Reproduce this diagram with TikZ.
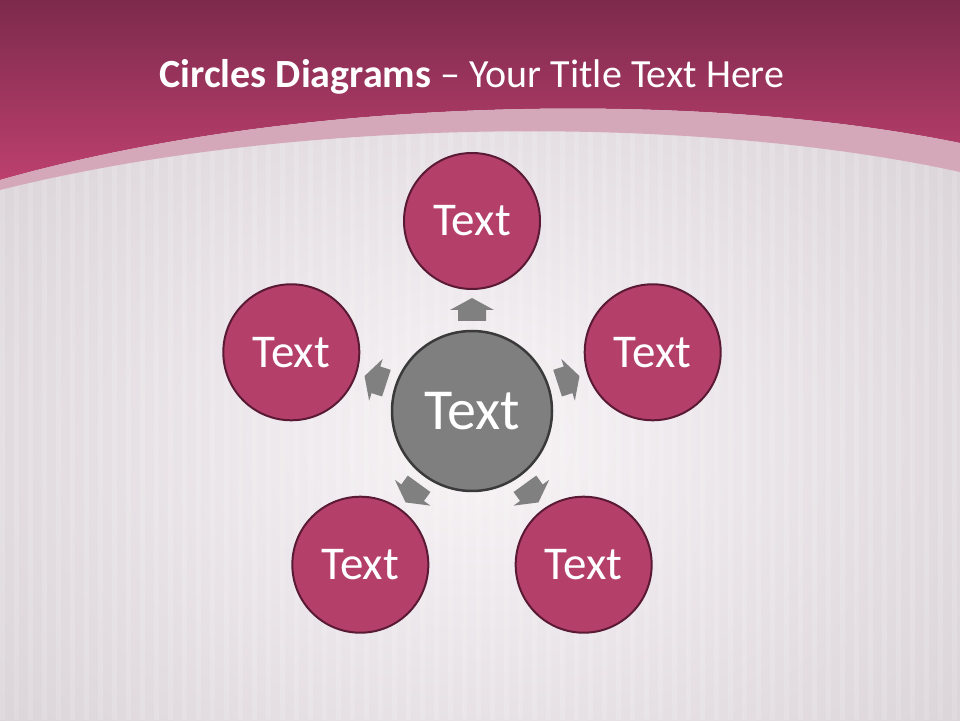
\documentclass[tikz,border=0pt]{standalone}
\usepackage{fontspec}
\setmainfont{Carlito}
\usetikzlibrary{calc}
\definecolor{hdtop}{HTML}{7D2A4D}
\definecolor{hdbot}{HTML}{BC406D}
\definecolor{bandc}{HTML}{D4A8B8}
\definecolor{bginner}{HTML}{F8F4F6}
\definecolor{bgouter}{HTML}{DBD4D9}
\definecolor{pinkfill}{HTML}{B4406A}
\definecolor{pinkedge}{HTML}{5A1A34}
\definecolor{grayfill}{HTML}{7F7F7F}
\definecolor{grayedge}{HTML}{3A3A3A}
\definecolor{arrowc}{HTML}{808080}
\tikzset{
  outercirc/.style={circle, fill=pinkfill, draw=pinkedge, line width=2pt, minimum size=136pt, inner sep=0pt, text=white, font=\fontsize{47}{50}\selectfont},
  centercirc/.style={circle, fill=grayfill, draw=grayedge, line width=2.5pt, minimum size=160pt, inner sep=0pt, text=white, font=\fontsize{58}{60}\selectfont},
  blockarrow/.style={fill=arrowc}
}
\begin{document}
\begin{tikzpicture}[x=1pt,y=1pt]
\useasboundingbox (0,0) rectangle (960,720);
% background
\shade[inner color=bginner, outer color=bgouter] (-120,-200) rectangle (1080,760);
\foreach \x in {0,14,...,960} \fill[white,opacity=0.14] (\x,0) rectangle ++(5,600);
% header
\shade[top color=hdtop, bottom color=hdbot] (0,720) -- (0,540) .. controls (300,625) and (700,630) .. (960,577) -- (960,720) -- cycle;
% light band
\fill[bandc] (0,540) .. controls (300,625) and (700,630) .. (960,577) -- (960,548) .. controls (700,605) and (300,605) .. (0,530) -- cycle;
% title
\node[text=white, font=\fontsize{40}{44}\selectfont, anchor=base] (title) at (472,632) {\textbf{Circles Diagrams} – Your Title Text Here};
% circles
\node[centercirc] (c0) at (472,309) {Text};
\node[outercirc] (c1) at ($(c0)+(90:190)$) {Text};
\node[outercirc] (c2) at ($(c0)+(18:190)$) {Text};
\node[outercirc] (c3) at ($(c0)+(306:190)$) {Text};
\node[outercirc] (c4) at ($(c0)+(234:190)$) {Text};
\node[outercirc] (c5) at ($(c0)+(162:190)$) {Text};
% block arrows
\foreach \a in {90,18,306,234,162} {
  \begin{scope}[shift={(c0.center)}, rotate=\a]
    \fill[blockarrow] (90,-14) -- (101,-14) -- (101,-22) -- (113,0) -- (101,22) -- (101,14) -- (90,14) -- cycle;
  \end{scope}
}
\end{tikzpicture}
\end{document}
